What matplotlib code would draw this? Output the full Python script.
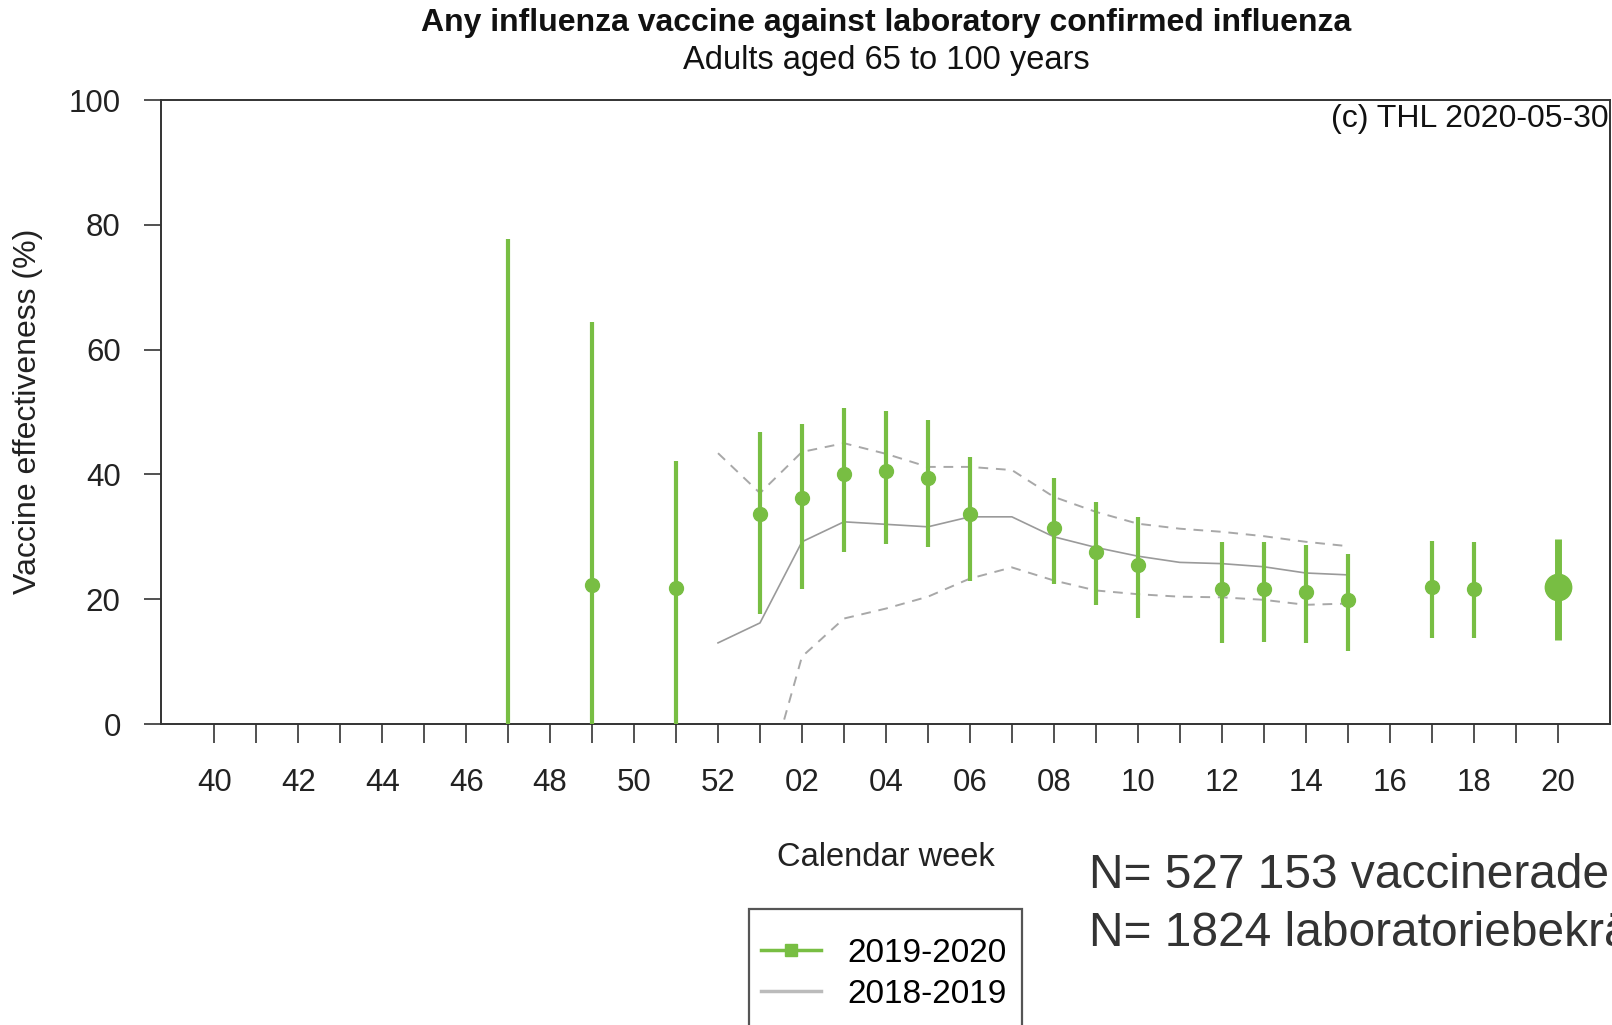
import numpy as np
import matplotlib
matplotlib.use("Agg")
import matplotlib.pyplot as plt
from matplotlib.lines import Line2D
from matplotlib.patches import Rectangle

nan = np.nan

# ---- data ----
week_labels = ["40", "41", "42", "43", "44", "45", "46", "47", "48", "49", "50", "51", "52",
               "01", "02", "03", "04", "05", "06", "07", "08", "09", "10", "11", "12",
               "13", "14", "15", "16", "17", "18", "19", "20"]

# 2019-2020 season: point estimates and 95% CI (%)
ve_1920 = [nan, nan, nan, nan, nan, nan, nan, -10, nan, 22.2, nan, 21.8, nan,
           33.7, 36.2, 40.1, 40.5, 39.4, 33.6, nan, 31.4, 27.6, 25.5, nan, 21.6,
           21.6, 21.1, 19.9, nan, 21.9, 21.7, nan, 21.9]
lo_1920 = [nan, nan, nan, nan, nan, nan, nan, -150, nan, -30, nan, -8, nan,
           17.6, 21.7, 27.6, 28.8, 28.4, 22.9, nan, 22.4, 19.0, 17.0, nan, 13.0,
           13.2, 13.0, 11.7, nan, 13.8, 13.8, nan, 13.5]
hi_1920 = [nan, nan, nan, nan, nan, nan, nan, 77.8, nan, 64.4, nan, 42.2, nan,
           46.8, 48.0, 50.7, 50.1, 48.7, 42.8, nan, 39.4, 35.6, 33.1, nan, 29.2,
           29.2, 28.7, 27.3, nan, 29.3, 29.2, nan, 29.7]

# 2018-2019 season (weeks 52 .. 15)
weeks_1819 = ["52", "01", "02", "03", "04", "05", "06", "07", "08", "09", "10", "11",
              "12", "13", "14", "15"]
ve_1819 = [13.0, 16.2, 29.2, 32.4, 32.0, 31.6, 33.2, 33.2, 30.0, 28.3, 26.9, 25.9,
           25.7, 25.2, 24.2, 23.9]
hi_1819 = [43.4, 37.0, 43.6, 45.0, 43.3, 41.2, 41.2, 40.7, 36.4, 34.0, 32.1, 31.3,
           30.8, 30.1, 29.2, 28.5]
lo_1819 = [-40, -13, 10.8, 16.9, 18.5, 20.4, 23.3, 25.1, 23.0, 21.4, 20.8, 20.4,
           20.3, 19.9, 19.1, 19.3]

y_ticks = [0, 20, 40, 60, 80, 100]

# ---- style ----
GREEN = "#78BE43"
GREY = "#9a9a9a"
DGREY = "#a8a8a8"
AXC = "#333333"
FONT = ["Liberation Sans", "DejaVu Sans"]
plt.rcParams["font.family"] = FONT

fig = plt.figure(figsize=(16.12, 10.25), dpi=100)
ax = fig.add_axes([161 / 1612, 1 - 724 / 1025, (1610 - 161) / 1612, (724 - 100) / 1025])

x_all = np.arange(len(week_labels))
pos = {w: i for i, w in enumerate(week_labels)}
x_1819 = np.array([pos[w] for w in weeks_1819])

# 2018-2019
ax.plot(x_1819, ve_1819, color=GREY, lw=1.2, zorder=2)
ax.plot(x_1819, hi_1819, color=DGREY, lw=1.4, ls=(0, (5, 4)), zorder=2)
ax.plot(x_1819, lo_1819, color=DGREY, lw=1.4, ls=(0, (5, 4)), zorder=2)

# 2019-2020 weekly
ve = np.array(ve_1920, float)
lo = np.array(lo_1920, float)
hi = np.array(hi_1920, float)
last = len(week_labels) - 1
wk = np.arange(last)
m = ~np.isnan(hi[:last])
ax.vlines(wk[m], lo[:last][m], hi[:last][m], color=GREEN, lw=3.0, zorder=3)
ax.plot(wk, ve[:last], ls="none", marker="o", ms=10, color=GREEN, zorder=4)
# final (cumulative) estimate, emphasised
ax.vlines([last], [lo[last]], [hi[last]], color=GREEN, lw=5.0, zorder=3)
ax.plot([last], [ve[last]], ls="none", marker="o", ms=19, color=GREEN, zorder=4)

ax.set_xlim(-1.27, 33.25)
ax.set_ylim(0, 100)
for s in ax.spines.values():
    s.set_color(AXC)
    s.set_linewidth(1.4)

ax.set_yticks(y_ticks)
ax.set_yticklabels([str(v) for v in y_ticks])
ax.tick_params(axis="y", direction="out", length=12, width=1.2, color=AXC,
               labelsize=22.5, pad=17, labelcolor="#222222")
ax.set_xticks(x_all)
ax.set_xticklabels([l if i % 2 == 0 else "" for i, l in enumerate(week_labels)])
ax.tick_params(axis="x", direction="out", length=14, width=1.2, color=AXC,
               labelsize=22.5, pad=18, labelcolor="#222222")

# ---- texts ----
fig.text(886 / 1612, 1 - 23 / 1025, "Any influenza vaccine against laboratory confirmed influenza",
         ha="center", va="center", fontsize=23, fontweight="bold", color="#111111")
fig.text(886 / 1612, 1 - 60 / 1025, "Adults aged 65 to 100 years",
         ha="center", va="center", fontsize=23.5, color="#111111")
fig.text(1609 / 1612, 1 - 119 / 1025, "(c) THL 2020-05-30",
         ha="right", va="center", fontsize=23, color="#111111")
fig.text(28 / 1612, 1 - 411 / 1025, "Vaccine effectiveness (%)", rotation=90,
         ha="center", va="center", fontsize=23, color="#222222")
fig.text(886 / 1612, 1 - 858 / 1025, "Calendar week",
         ha="center", va="center", fontsize=23.5, color="#222222")
fig.text(1089 / 1612, 1 - 876 / 1025, "N= 527 153 vaccinerade",
         ha="left", va="center", fontsize=34.5, color="#333333")
fig.text(1089 / 1612, 1 - 934 / 1025, "N= 1824 laboratoriebekräftade",
         ha="left", va="center", fontsize=34.5, color="#333333")

# ---- legend ----
fig.patches.append(Rectangle((749 / 1612, 1 - 1040 / 1025), (1022 - 749) / 1612, (1040 - 909) / 1025,
                             transform=fig.transFigure, fill=False, ec="#555555", lw=1.6))
handles = [Line2D([], [], color=GREEN, lw=2.5, marker="s", ms=8),
           Line2D([], [], color="#bbbbbb", lw=2.5)]
fig.legend(handles, ["2019-2020", "2018-2019"], loc="upper left",
           bbox_to_anchor=(744 / 1612, 1 - 921 / 1025), frameon=False, fontsize=24,
           handlelength=1.8, handletextpad=0.8, labelspacing=0.3, borderpad=0.0)

fig.savefig("out.png", dpi=100)
